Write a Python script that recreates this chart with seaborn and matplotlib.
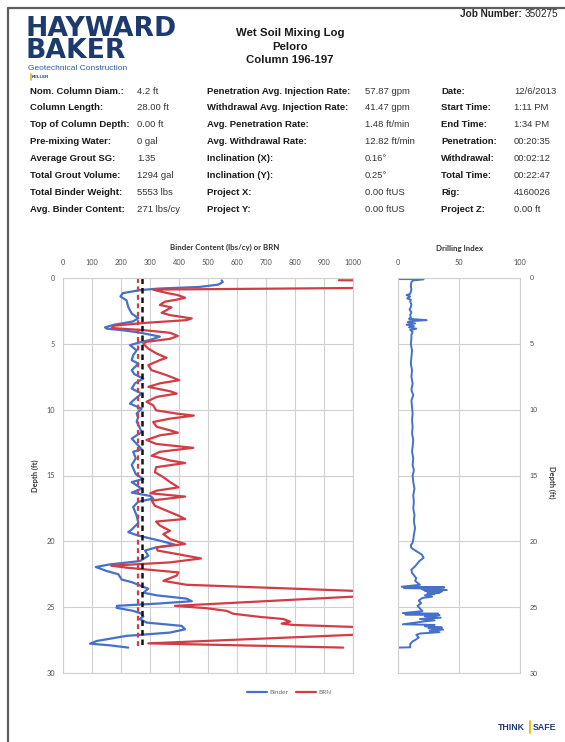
import numpy as np
import pandas as pd
import matplotlib
matplotlib.use("Agg")
import matplotlib.pyplot as plt
from matplotlib.lines import Line2D
import seaborn as sns

# ---------------- data ----------------
job_number = "350275"
title_lines = ["Wet Soil Mixing Log", "Peloro", "Column 196-197"]

info_col1_labels = ["Nom. Column Diam.:", "Column Length:", "Top of Column Depth:", "Pre-mixing Water:",
                    "Average Grout SG:", "Total Grout Volume:", "Total Binder Weight:", "Avg. Binder Content:"]
info_col1_values = ["4.2 ft", "28.00 ft", "0.00 ft", "0 gal", "1.35", "1294 gal", "5553 lbs", "271 lbs/cy"]
info_col2_labels = ["Penetration Avg. Injection Rate:", "Withdrawal Avg. Injection Rate:", "Avg. Penetration Rate:",
                    "Avg. Withdrawal Rate:", "Inclination (X):", "Inclination (Y):", "Project X:", "Project Y:"]
info_col2_values = ["57.87 gpm", "41.47 gpm", "1.48 ft/min", "12.82 ft/min", "0.16°", "0.25°", "0.00 ftUS", "0.00 ftUS"]
info_col3_labels = ["Date:", "Start Time:", "End Time:", "Penetration:", "Withdrawal:", "Total Time:", "Rig:", "Project Z:"]
info_col3_values = ["12/6/2013", "1:11 PM", "1:34 PM", "00:20:35", "00:02:12", "00:22:47", "4160026", "0.00 ft"]

binder_depth = [0.18, 0.30, 0.50, 0.68, 0.80, 0.92, 1.15, 1.40, 1.70, 2.20,
                2.70, 3.05, 3.30, 3.55, 3.75, 3.85, 3.98, 4.15, 4.45, 4.70,
                4.90, 5.10, 5.50, 5.86, 6.24, 6.50, 7.00, 7.30, 7.64, 8.00,
                8.40, 8.78, 9.30, 9.54, 9.92, 10.30, 10.60, 10.90, 11.30, 11.70,
                12.20, 12.60, 13.00, 13.20, 13.70, 14.20, 14.90, 15.26, 15.50, 16.00,
                16.30, 16.55, 16.75, 17.00, 17.40, 18.05, 18.60, 19.10, 19.30, 19.57,
                19.95, 20.25, 20.46, 20.70, 21.10, 21.50, 21.75, 21.95, 22.25, 22.50,
                22.90, 23.10, 23.40, 23.60, 23.90, 24.10, 24.35, 24.55, 24.72, 24.90,
                25.05, 25.28, 25.50, 25.70, 25.90, 26.17, 26.42, 26.68, 26.93, 27.18,
                27.57, 27.77, 27.90, 28.07]
binder_value = [546, 550, 535, 470, 330, 265, 205, 197, 218, 224,
                236, 259, 240, 175, 144, 150, 210, 264, 333, 300,
                262, 230, 253, 241, 236, 259, 236, 245, 276, 247,
                236, 270, 241, 230, 270, 253, 258, 253, 262, 270,
                236, 253, 270, 241, 250, 236, 250, 276, 236, 270,
                236, 300, 310, 258, 241, 253, 259, 236, 224, 259,
                333, 385, 320, 282, 293, 264, 161, 112, 149, 190,
                201, 236, 270, 293, 276, 322, 425, 443, 330, 185,
                184, 241, 270, 276, 264, 287, 408, 420, 368, 218,
                115, 92, 161, 224]

brn_depth = [0.17, 0.22, 0.70, 0.76, 0.88, 0.96, 1.15, 1.30, 1.50, 1.65,
             1.80, 2.05, 2.23, 2.44, 2.64, 2.82, 3.07, 3.20, 3.40, 3.62,
             3.80, 3.96, 4.16, 4.40, 4.62, 4.85, 5.00, 5.36, 5.74, 6.06,
             6.24, 6.62, 7.00, 7.38, 7.76, 8.00, 8.27, 8.60, 8.78, 9.03,
             9.40, 9.67, 10.05, 10.30, 10.45, 10.68, 10.94, 11.30, 11.57, 11.75,
             11.95, 12.30, 12.60, 12.90, 13.20, 13.50, 13.86, 14.05, 14.37, 14.75,
             15.13, 15.50, 15.90, 16.15, 16.35, 16.60, 16.90, 17.30, 17.67, 18.05,
             18.30, 18.50, 18.80, 19.20, 19.45, 19.83, 20.20, 20.46, 20.70, 20.96,
             21.30, 21.60, 21.85, 22.00, 22.36, 22.60, 23.00, 23.30, 23.76, 24.00,
             24.20, 24.90, 25.08, 25.28, 25.50, 25.74, 25.90, 26.10, 26.25, 26.35,
             26.50, 26.80, 27.10, 27.75, 28.07]
brn_value = [950, 1400, 1400, 1000, 310, 322, 360, 395, 420, 390,
             350, 333, 373, 356, 339, 368, 443, 425, 287, 175,
             167, 276, 368, 395, 368, 287, 276, 293, 322, 356,
             333, 293, 304, 356, 400, 333, 293, 368, 391, 322,
             287, 310, 320, 391, 450, 368, 310, 322, 368, 395,
             333, 287, 320, 448, 333, 305, 368, 420, 320, 316,
             345, 368, 397, 322, 300, 420, 305, 316, 356, 397,
             420, 320, 333, 368, 345, 368, 420, 322, 325, 391,
             475, 368, 165, 218, 397, 391, 345, 425, 1000, 1300,
             1000, 385, 494, 563, 586, 678, 759, 782, 753, 793,
             1000, 1300, 1000, 293, 965]

avg_binder = 271
avg_brn = 258
column_length = 28.07

di_depth = [0.08, 0.09, 0.18, 0.30, 0.60, 0.90, 1.20, 1.30, 1.40, 1.55,
            1.65, 1.80, 2.00, 2.20, 2.40, 2.60, 2.80, 3.00, 3.10, 3.20,
            3.28, 3.35, 3.45, 3.55, 3.65, 3.75, 3.85, 3.95, 4.10, 4.30,
            4.6, 5.0, 5.5, 6.0, 6.5, 7.0, 7.5, 8.0, 8.5, 8.9,
            9.3, 9.8, 10.3, 10.8, 11.3, 11.8, 12.3, 12.8, 13.2, 13.7,
            14.2, 14.6, 15.0, 15.5, 16.0, 16.5, 17.0, 17.5, 18.0, 18.5,
            19.0, 19.5, 19.9,
            20.1, 20.3, 20.5, 20.75, 21.0, 21.25, 21.5, 21.9, 22.15, 22.4,
            22.8, 23.0, 23.3, 23.45, 23.5, 23.55, 23.6, 23.65, 23.7, 23.75,
            23.8, 23.85, 23.9, 23.95, 24.0, 24.1, 24.2, 24.3, 24.5, 24.7,
            24.9, 25.1, 25.3, 25.45, 25.5, 25.55, 25.6, 25.7, 25.8, 25.9,
            26.0, 26.1, 26.3, 26.35, 26.45, 26.55, 26.6, 26.7, 26.8, 26.9,
            27.0, 27.1, 27.3, 27.5, 27.6, 27.8, 28.05, 28.07]
di_value = [0, 21, 12.5, 11, 10.5, 11, 10, 7, 10, 7.5,
            10.5, 10, 11, 10.5, 9.5, 11, 10, 10.5, 9, 23.5,
            10, 8, 14, 7, 13, 9, 15, 10, 12, 11,
            11, 10.5, 11.5, 11, 10.5, 11.5, 11, 12, 11, 12.5,
            11, 11.5, 12, 11.5, 12, 11.5, 12.5, 12, 11.5, 12.5,
            12, 13, 12, 12.5, 13.5, 12.5, 13, 12.5, 13.5, 13,
            14, 13, 12.5,
            12, 10.5, 11, 15, 19.5, 21, 17.5, 14, 11, 11.5,
            15, 14, 18, 3, 38, 5, 33, 20, 40, 22,
            36, 25, 34, 24, 30, 22, 28, 20, 17, 19,
            16, 18, 20, 4, 33, 6, 34, 22, 35, 18,
            30, 20, 4, 30, 22, 36, 25, 37, 26, 34,
            18, 15, 17, 14, 12, 10, 10, 0]

left_xticks = [0, 100, 200, 300, 400, 500, 600, 700, 800, 900, 1000]
right_xticks = [0, 50, 100]
depth_ticks = [0, 5, 10, 15, 20, 25, 30]

# ---------------- style ----------------
sns.set_theme(style="white")
plt.rcParams['font.family'] = ['Liberation Sans', 'DejaVu Sans']

W, H = 565, 742
fig = plt.figure(figsize=(W / 100, H / 100), dpi=100)
fig.patch.set_facecolor("white")


def fx(x):
    return x / W


def fy(y):
    return 1 - y / H


BLUE = "#4571c8"
RED = "#d33c45"
NAVY = "#1c3a6e"
GRID = "#d0d0d0"
TICK = "#505050"
CHART_FONT = ['Lato', 'DejaVu Sans']

# page frame (scan edge)
fig.add_artist(Line2D([fx(8), fx(565)], [fy(7.5), fy(7.5)], transform=fig.transFigure, color="#5e5e5e", lw=1.6))
fig.add_artist(Line2D([fx(8), fx(8)], [fy(7.5), fy(742)], transform=fig.transFigure, color="#5e5e5e", lw=1.6))

# logo (one two-line text, tight leading)
fig.text(fx(26), fy(57.5), "HAYWARD\nBAKER", fontsize=19.2, weight="bold", color=NAVY, va="baseline", ha="left",
         linespacing=0.76, family=["DejaVu Sans"])
fig.text(fx(28), fy(68.5), "Geotechnical Construction", fontsize=6.0, color="#2f5d9b", va="center", ha="left")
fig.text(fx(32), fy(77), "KELLER", fontsize=3.2, color=NAVY, weight="bold", va="center", ha="left")
fig.add_artist(Line2D([fx(30.5), fx(30.5)], [fy(74), fy(80)], transform=fig.transFigure, color="#e6b800", lw=1.2))

# job number and titles
fig.text(fx(558), fy(14), job_number, fontsize=7.2, color="#222222", ha="right", va="center")
fig.text(fx(522), fy(14), "Job Number:", fontsize=7.2, weight="bold", color="#222222", ha="right", va="center")
for i, t in enumerate(title_lines):
    fig.text(fx(290), fy(33 + 13.5 * i), t, fontsize=8.2, weight="bold", color="#1a1a1a", ha="center", va="center")

# info table
row_y0, row_dy = 91, 16.9
cols = [(30, info_col1_labels, 137, info_col1_values),
        (207, info_col2_labels, 365, info_col2_values),
        (441, info_col3_labels, 514, info_col3_values)]
for lx, labels, vx, values in cols:
    for i, (lab, val) in enumerate(zip(labels, values)):
        y = fy(row_y0 + row_dy * i)
        fig.text(fx(lx), y, lab, fontsize=6.8, weight="bold", color="#1a1a1a", ha="left", va="center")
        fig.text(fx(vx), y, val, fontsize=6.8, color="#333333", ha="left", va="center")

# ---------------- charts ----------------
ax1 = fig.add_axes([fx(63.3), fy(673), 290 / W, 395 / H])
ax2 = fig.add_axes([fx(398), fy(673), 122 / W, 395 / H])

binder_df = pd.DataFrame({"depth": binder_depth, "value": binder_value})
brn_df = pd.DataFrame({"depth": brn_depth, "value": brn_value})
di_df = pd.DataFrame({"depth": di_depth, "value": di_value})

sns.lineplot(data=binder_df, x="value", y="depth", sort=False, estimator=None, color=BLUE, lw=1.6,
             label="Binder", ax=ax1)
sns.lineplot(data=brn_df, x="value", y="depth", sort=False, estimator=None, color=RED, lw=1.6,
             label="BRN", ax=ax1)
ax1.vlines(avg_brn, 0, column_length, colors=RED, linestyles=(0, (2.2, 1.6)), lw=1.6)
ax1.vlines(avg_binder, 0, column_length, colors="#111111", linestyles=(0, (2.2, 1.6)), lw=1.8)

sns.lineplot(data=di_df, x="value", y="depth", sort=False, estimator=None, color=BLUE, lw=1.4, ax=ax2)

for ax, xt, xmax in [(ax1, left_xticks, 1000), (ax2, right_xticks, 100)]:
    ax.set_xlim(0, xmax)
    ax.set_ylim(30, 0)
    ax.set_xticks(xt)
    ax.set_yticks(depth_ticks)
    ax.xaxis.tick_top()
    ax.grid(True, color=GRID, lw=0.8)
    for s in ax.spines.values():
        s.set_color(GRID)
        s.set_linewidth(0.8)
    ax.tick_params(length=0, labelsize=5.3, colors=TICK)
    ax.tick_params(axis="x", pad=8.5)
    ax.set_xlabel("")
    ax.set_ylabel("")
    for lbl in ax.get_xticklabels() + ax.get_yticklabels():
        lbl.set_family(CHART_FONT)

ax1.tick_params(axis="y", pad=6)
ax2.yaxis.tick_right()
ax2.tick_params(axis="y", pad=7)

fig.text(fx(225), fy(247), "Binder Content (lbs/cy) or BRN", fontsize=5.7, weight="bold", color="#333333",
         ha="center", va="center", family=CHART_FONT)
fig.text(fx(460), fy(248), "Drilling Index", fontsize=5.7, weight="bold", color="#333333",
         ha="center", va="center", family=CHART_FONT)
fig.text(fx(35), fy(476), "Depth (ft)", fontsize=5.4, weight="bold", color="#333333", rotation=90,
         ha="center", va="center", family=CHART_FONT)
fig.text(fx(552), fy(482), "Depth (ft)", fontsize=5.4, weight="bold", color="#333333", rotation=270,
         ha="center", va="center", family=CHART_FONT)

leg = ax1.legend(loc="center", bbox_to_anchor=(fx(289), fy(692)), bbox_transform=fig.transFigure,
                 ncol=2, frameon=False, fontsize=4.6, handlelength=3.2, columnspacing=1.2, handletextpad=0.3)
for t in leg.get_texts():
    t.set_color("#666666")
    t.set_family(CHART_FONT)

# THINK SAFE logo
fig.text(fx(498), fy(727), "THINK", fontsize=6.3, weight="heavy", color=NAVY, ha="left", va="center")
fig.text(fx(533), fy(727), "SAFE", fontsize=6.3, weight="heavy", color=NAVY, ha="left", va="center")
fig.add_artist(Line2D([fx(529.5), fx(529.5)], [fy(721), fy(733)], transform=fig.transFigure,
                      color="#e6b800", lw=1.3))

fig.savefig("out.png", dpi=100, facecolor="white")
